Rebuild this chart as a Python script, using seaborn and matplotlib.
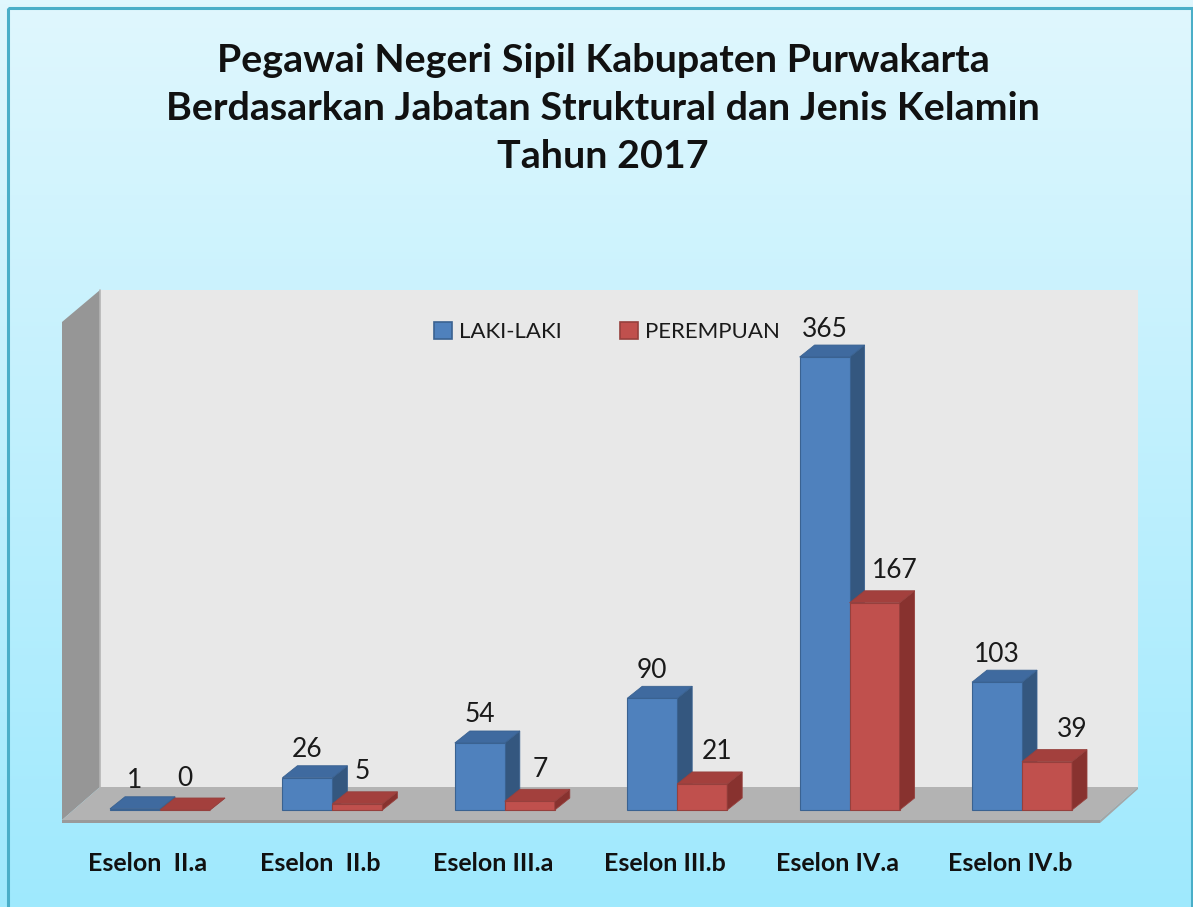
import numpy as np
import pandas as pd
import matplotlib
matplotlib.use("Agg")
import matplotlib.pyplot as plt
import matplotlib.transforms as mtransforms
from matplotlib.patches import Polygon, Rectangle, Patch
from matplotlib.colors import LinearSegmentedColormap
import seaborn as sns

# ---------------- data ----------------
categories = ["Eselon  II.a", "Eselon  II.b", "Eselon III.a", "Eselon III.b", "Eselon IV.a", "Eselon IV.b"]
laki_laki = [1, 26, 54, 90, 365, 103]
perempuan = [0, 5, 7, 21, 167, 39]
series_names = ["LAKI-LAKI", "PEREMPUAN"]
title_lines = ["Pegawai Negeri Sipil Kabupaten Purwakarta",
               "Berdasarkan Jabatan Struktural dan Jenis Kelamin",
               "Tahun 2017"]

df = pd.DataFrame({
    "Eselon": categories * 2,
    "Jenis": [series_names[0]] * len(categories) + [series_names[1]] * len(categories),
    "Jumlah": laki_laki + perempuan,
})

# ---------------- style ----------------
sns.set_theme(style="white")
plt.rcParams["font.family"] = ["Lato", "DejaVu Sans"]

W, H = 1193, 907
fig = plt.figure(figsize=(W / 100, H / 100), dpi=100)

# background gradient
bg = fig.add_axes([0, 0, 1, 1], zorder=-10)
cmap_bg = LinearSegmentedColormap.from_list("bg", ["#e0f7fe", "#9fe9fd"])
bg.imshow(np.linspace(0, 1, 256).reshape(-1, 1), aspect="auto", cmap=cmap_bg,
          extent=[0, W, H, 0])
bg.set_xlim(0, W); bg.set_ylim(H, 0)
bg.add_patch(Rectangle((8, 8), W - 9, H + 5, fill=False, edgecolor="#4aaec8", lw=2.2))
bg.axis("off")

# pixel geometry of plotting region
px_x0, px_x1, px_y0, px_y1 = 55, 1145, 280, 830   # axes box in figure px (y from top)
cat_px0, cat_step = 160.0, 172.4                  # category centre px / spacing
zero_py, px_per_unit = 810.0, 1.241               # value 0 line and scale

def px2x(px):
    return (px - cat_px0) / cat_step

def py2v(py):
    return (zero_py - py) / px_per_unit

ax = fig.add_axes([px_x0 / W, 1 - px_y1 / H, (px_x1 - px_x0) / W, (px_y1 - px_y0) / H])

# ---------------- bars ----------------
front_cols = ["#4f81bd", "#c0504d"]
top_cols = ["#3f6a9f", "#a3403d"]
side_cols = ["#34577f", "#88322f"]
edge_cols = ["#3a6291", "#96403d"]

sns.barplot(data=df, x="Eselon", y="Jumlah", hue="Jenis", order=categories,
            hue_order=series_names, palette=front_cols, width=0.58, ax=ax,
            saturation=1, legend=False, zorder=2, linewidth=0.8)

ax.set_xlim(px2x(px_x0), px2x(px_x1))
ax.set_ylim(py2v(px_y1), py2v(px_y0))
ax.patch.set_alpha(0)
for s in ax.spines.values():
    s.set_visible(False)

# walls & floor (decoration)
def poly(pts, **kw):
    ax.add_patch(Polygon([(px2x(a), py2v(b)) for a, b in pts], closed=True, **kw))

poly([(100, 290), (1138, 290), (1138, 787), (100, 787)], facecolor="#e8e8e8", edgecolor="none", zorder=0.1)
poly([(62, 322), (100, 290), (100, 787), (62, 820)], facecolor="#969696", edgecolor="none", zorder=0.2)
poly([(62, 820), (100, 787), (1138, 787), (1100, 820)], facecolor="#b3b3b3", edgecolor="none", zorder=0.2)
poly([(62, 820), (1100, 820), (1100, 823), (62, 823)], facecolor="#9a9a9a", edgecolor="none", zorder=0.2)
poly([(1100, 820), (1138, 787), (1138, 789), (1100, 823)], facecolor="#a5a5a5", edgecolor="none", zorder=0.2)
ax.plot([px2x(100), px2x(100)], [py2v(290), py2v(787)], color="#b5b5b5", lw=1.2, zorder=0.3)

dxd = 15 / cat_step          # depth offset in x units
dyd = 12 / px_per_unit       # depth offset in value units

for k, cont in enumerate(ax.containers):
    for i, rect in enumerate(cont.patches):
        rect.set_edgecolor(edge_cols[k])
        rect.set_zorder(2)
        x0 = rect.get_x(); w = rect.get_width(); h = rect.get_height()
        zo = 1.5 if k == 0 else 2.5
        side = Polygon([(x0 + w, 0), (x0 + w, h), (x0 + w + dxd, h + dyd), (x0 + w + dxd, dyd)],
                       closed=True, facecolor=side_cols[k], edgecolor=edge_cols[k], lw=0.6, zorder=zo)
        top = Polygon([(x0, h), (x0 + w, h), (x0 + w + dxd, h + dyd), (x0 + dxd, h + dyd)],
                      closed=True, facecolor=top_cols[k], edgecolor=edge_cols[k], lw=0.6, zorder=zo)
        ax.add_patch(side); ax.add_patch(top)
        # red labels drift right with perspective toward the right of the chart
        lx = x0 + w / 2 + ((5 * i) / cat_step if k == 1 else 0)
        ly = h + (32 if k == 1 else 28) / px_per_unit
        ax.text(lx, ly, f"{int(round(h))}", ha="center", va="center",
                fontsize=19, color="#1a1a1a", zorder=5)

# axes labels / ticks
ax.set_xlabel(""); ax.set_ylabel("")
ax.set_yticks([])
ax.set_xticks(range(len(categories)))
ax.set_xticklabels(categories, fontsize=18, fontweight="bold", color="#111111")
ax.tick_params(axis="x", length=0, pad=16)
off = mtransforms.ScaledTranslation(-12 / 100, 0, fig.dpi_scale_trans)
for lab in ax.get_xticklabels():
    lab.set_transform(lab.get_transform() + off)

# legend
handles = [Patch(facecolor=front_cols[i], edgecolor=edge_cols[i], lw=1.2) for i in range(2)]
leg = ax.legend(handles, series_names, loc="center", bbox_to_anchor=(607 / W, 1 - 332 / H),
                bbox_transform=fig.transFigure, ncol=2, frameon=False, fontsize=16,
                handlelength=0.8, handleheight=0.8, handletextpad=0.35, columnspacing=2.6)
for t in leg.get_texts():
    t.set_color("#1a1a1a")

# title
for i, line in enumerate(title_lines):
    fig.text(603 / W, 1 - (60 + 48 * i) / H, line, ha="center", va="center",
             fontsize=28.4, fontweight="bold", color="#111111")

fig.savefig("out.png", dpi=100)
